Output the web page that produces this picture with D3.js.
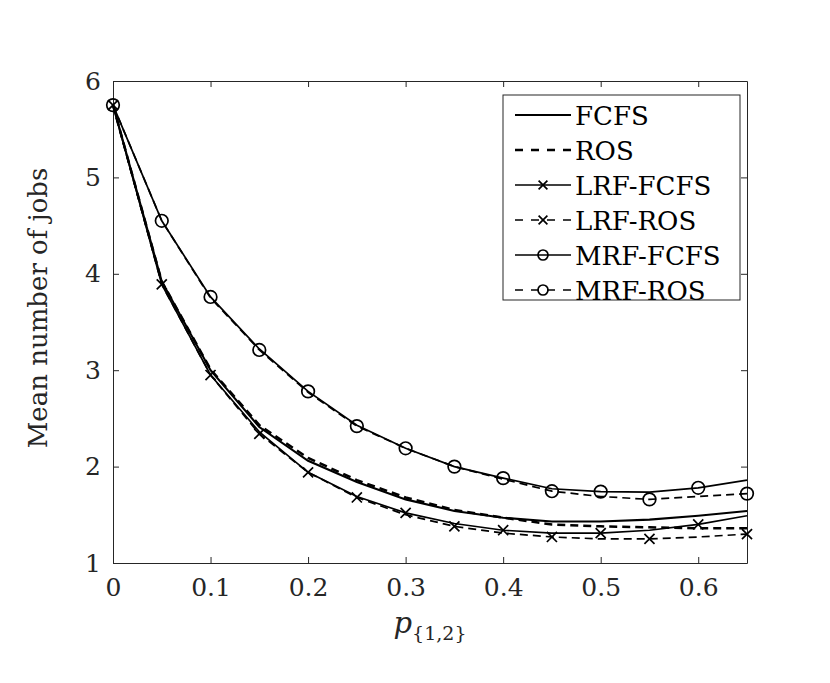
<!DOCTYPE html>
<html>
<head>
<meta charset="utf-8">
<script src="https://cdn.jsdelivr.net/npm/d3@7"></script>
<style>
  body { margin: 0; background: #fff; }
  svg { display: block; font-family: "DejaVu Serif", "Liberation Serif", serif; }
  .axis path, .axis line { stroke: #262626; }
  .axis text { fill: #262626; font-size: 25px; font-family: "DejaVu Serif", "Liberation Serif", serif; }
</style>
</head>
<body>
<div id="graph-container"></div>
<script>
// p_{1,2} grid
const pValues = [0, 0.05, 0.1, 0.15, 0.2, 0.25, 0.3, 0.35, 0.4, 0.45, 0.5, 0.55, 0.6, 0.65];

// mean number of jobs
const fcfs     = [5.75, 3.92, 3.00, 2.41, 2.06, 1.84, 1.66, 1.54, 1.47, 1.43, 1.43, 1.45, 1.49, 1.54];
const ros      = [5.75, 3.92, 3.01, 2.43, 2.09, 1.86, 1.68, 1.55, 1.47, 1.40, 1.38, 1.37, 1.36, 1.36];
const lrfFcfs  = [5.75, 3.89, 2.95, 2.36, 1.94, 1.69, 1.52, 1.41, 1.34, 1.31, 1.31, 1.34, 1.40, 1.49];
const lrfRos   = [5.75, 3.89, 2.95, 2.34, 1.94, 1.68, 1.50, 1.38, 1.31, 1.27, 1.25, 1.25, 1.27, 1.30];
const mrfFcfs  = [5.75, 4.55, 3.76, 3.22, 2.78, 2.43, 2.19, 2.00, 1.88, 1.77, 1.74, 1.735, 1.78, 1.86];
const mrfRos   = [5.75, 4.55, 3.75, 3.21, 2.77, 2.42, 2.19, 2.00, 1.87, 1.745, 1.69, 1.66, 1.69, 1.72];

const xTicks = [0, 0.1, 0.2, 0.3, 0.4, 0.5, 0.6];
const yTicks = [1, 2, 3, 4, 5, 6];

const seriesNames = ['FCFS', 'ROS', 'LRF-FCFS', 'LRF-ROS', 'MRF-FCFS', 'MRF-ROS'];

const series = [
  {name: seriesNames[0], values: fcfs,    dash: null,  marker: null,     width: 2.1, markerParity: 0},
  {name: seriesNames[1], values: ros,     dash: '8,5', marker: null,     width: 2.5, markerParity: 1},
  {name: seriesNames[2], values: lrfFcfs, dash: null,  marker: 'cross',  width: 1.7, markerParity: 0},
  {name: seriesNames[3], values: lrfRos,  dash: '8,5', marker: 'cross',  width: 1.7, markerParity: 1},
  {name: seriesNames[4], values: mrfFcfs, dash: null,  marker: 'circle', width: 1.7, markerParity: 0},
  {name: seriesNames[5], values: mrfRos,  dash: '8,5', marker: 'circle', width: 1.7, markerParity: 1},
];

const W = 830, H = 683;
const margin = {top: 81, right: 83, bottom: 120, left: 113};
const width = W - margin.left - margin.right;
const height = H - margin.top - margin.bottom;

const svg = d3.select('#graph-container')
  .append('svg')
  .attr('width', W)
  .attr('height', H);

svg.append('rect').attr('width', W).attr('height', H).attr('fill', '#fff');

const g = svg.append('g')
  .attr('transform', `translate(${margin.left},${margin.top})`);

const xScale = d3.scaleLinear().domain([0, 0.65]).range([0, width]);
const yScale = d3.scaleLinear().domain([1, 6]).range([height, 0]);

const tickLen = 6;

// Axes (ticks point inward, box on)
g.append('g')
  .attr('class', 'axis')
  .attr('transform', `translate(0,${height})`)
  .call(d3.axisBottom(xScale).tickValues(xTicks).tickFormat(d3.format('')).tickSizeInner(-tickLen).tickSizeOuter(0).tickPadding(15));

g.append('g')
  .attr('class', 'axis')
  .call(d3.axisTop(xScale).tickValues(xTicks).tickFormat('').tickSizeInner(-tickLen).tickSizeOuter(0));

g.append('g')
  .attr('class', 'axis')
  .call(d3.axisLeft(yScale).tickValues(yTicks).tickFormat(d3.format('d')).tickSizeInner(-tickLen).tickSizeOuter(0).tickPadding(12));

g.append('g')
  .attr('class', 'axis')
  .attr('transform', `translate(${width},0)`)
  .call(d3.axisRight(yScale).tickValues(yTicks).tickFormat('').tickSizeInner(-tickLen).tickSizeOuter(0));

g.selectAll('.axis path').attr('stroke-width', 1);
g.selectAll('.axis line').attr('stroke-width', 1);

// Curves
const line = d3.line()
  .x((d, i) => xScale(pValues[i]))
  .y((d) => yScale(d));

function drawMarker(sel, type, cx, cy, r) {
  if (type === 'circle') {
    sel.append('circle')
      .attr('cx', cx).attr('cy', cy).attr('r', r)
      .attr('fill', 'none').attr('stroke', '#000').attr('stroke-width', 1.7);
  } else if (type === 'cross') {
    const s = r * 0.8;
    sel.append('path')
      .attr('d', `M${cx - s},${cy - s}L${cx + s},${cy + s}M${cx - s},${cy + s}L${cx + s},${cy - s}`)
      .attr('stroke', '#000').attr('stroke-width', 1.7).attr('fill', 'none');
  }
}

const plot = g.append('g');
series.forEach((s) => {
  plot.append('path')
    .attr('d', line(s.values))
    .attr('fill', 'none')
    .attr('stroke', '#000')
    .attr('stroke-width', s.width)
    .attr('stroke-dasharray', s.dash);
  if (s.marker) {
    s.values.forEach((v, i) => {
      if (i % 2 === s.markerParity) {
        drawMarker(plot, s.marker, xScale(pValues[i]), yScale(v), 6.3);
      }
    });
  }
});

// Legend
const legend = svg.append('g').attr('transform', 'translate(503,95)');
legend.append('rect')
  .attr('width', 237).attr('height', 205)
  .attr('fill', '#fff').attr('stroke', '#262626').attr('stroke-width', 1);

series.forEach((s, i) => {
  const cy = 20 + i * 35;
  const row = legend.append('g');
  row.append('line')
    .attr('x1', 12).attr('x2', 68).attr('y1', cy).attr('y2', cy)
    .attr('stroke', '#000').attr('stroke-width', s.width)
    .attr('stroke-dasharray', s.dash ? '8,8' : null);
  if (s.marker) drawMarker(row, s.marker, 40, cy, s.marker === 'circle' ? 5 : 5.5);
  row.append('text')
    .attr('x', 72).attr('y', cy + 10)
    .attr('font-size', 26)
    .attr('fill', '#000')
    .text(s.name);
});

// Axis labels
svg.append('text')
  .attr('transform', `translate(47,308) rotate(-90)`)
  .attr('text-anchor', 'middle')
  .attr('font-size', 26)
  .attr('fill', '#262626')
  .text('Mean number of jobs');

const xl = svg.append('text')
  .attr('x', margin.left + width / 2)
  .attr('y', 633)
  .attr('text-anchor', 'middle')
  .attr('fill', '#262626');
xl.append('tspan').attr('font-size', 29).attr('font-style', 'italic').text('p');
xl.append('tspan').attr('font-size', 19).attr('dy', 7).text('{1,2}');
</script>
</body>
</html>
